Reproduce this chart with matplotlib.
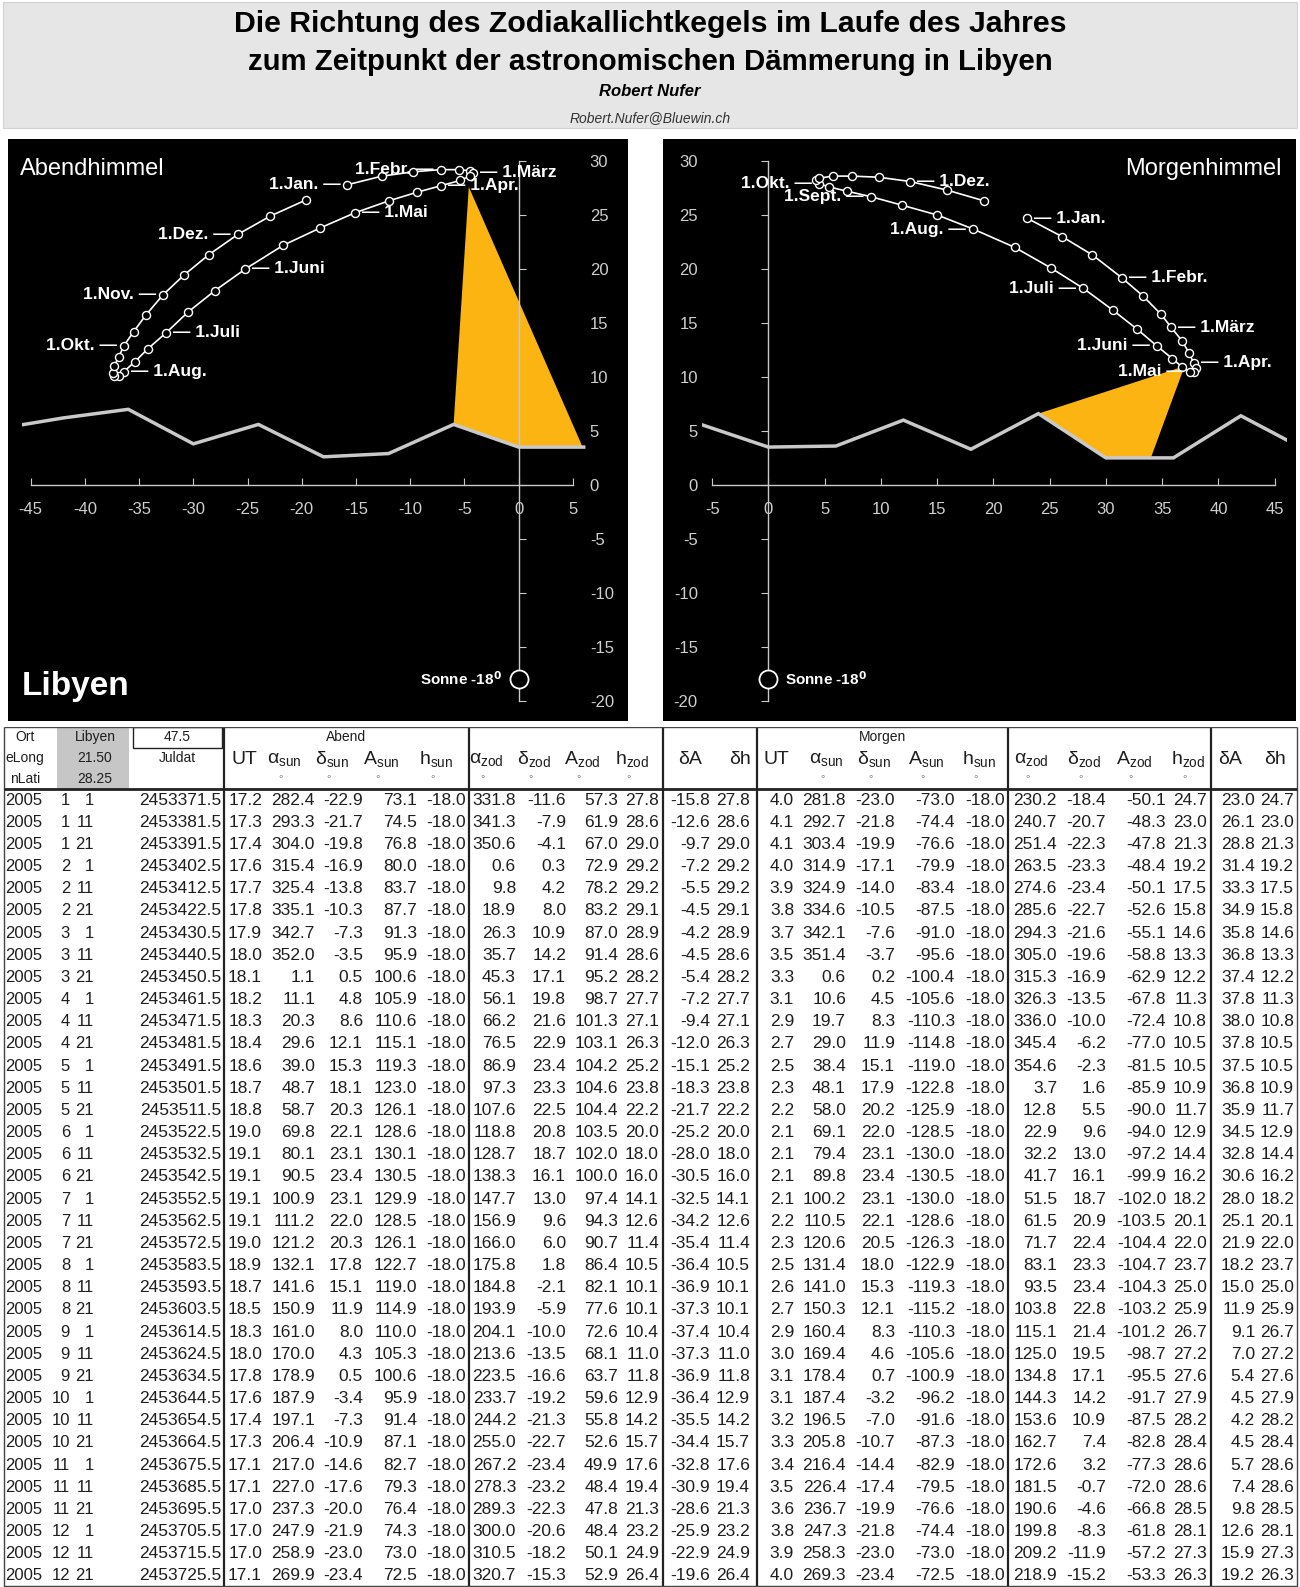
import matplotlib
matplotlib.use("Agg")
import matplotlib.pyplot as plt
from matplotlib import font_manager
from matplotlib.patches import Rectangle

W, H, DPI = 1300, 1587, 100

installed = {f.name for f in font_manager.fontManager.ttflist}
NARROW = "Liberation Sans Narrow" if "Liberation Sans Narrow" in installed else "Liberation Sans"
TITLE_SIZE = 26 if NARROW == "Liberation Sans Narrow" else 21.8

plt.rcParams["font.family"] = ["Liberation Sans", "DejaVu Sans"]
plt.rcParams["mathtext.default"] = "regular"
plt.rcParams["axes.unicode_minus"] = False

year = 2005
months = [1, 1, 1, 2, 2, 2, 3, 3, 3, 4, 4, 4, 5, 5, 5, 6, 6, 6,
          7, 7, 7, 8, 8, 8, 9, 9, 9, 10, 10, 10, 11, 11, 11, 12, 12, 12]
days = [1, 11, 21] * 12
juldat = [2453371.5, 2453381.5, 2453391.5, 2453402.5, 2453412.5, 2453422.5,
          2453430.5, 2453440.5, 2453450.5, 2453461.5, 2453471.5, 2453481.5,
          2453491.5, 2453501.5, 2453511.5, 2453522.5, 2453532.5, 2453542.5,
          2453552.5, 2453562.5, 2453572.5, 2453583.5, 2453593.5, 2453603.5,
          2453614.5, 2453624.5, 2453634.5, 2453644.5, 2453654.5, 2453664.5,
          2453675.5, 2453685.5, 2453695.5, 2453705.5, 2453715.5, 2453725.5]

# Abend
ut_e = [17.2, 17.3, 17.4, 17.6, 17.7, 17.8, 17.9, 18.0, 18.1, 18.2, 18.3, 18.4,
        18.6, 18.7, 18.8, 19.0, 19.1, 19.1, 19.1, 19.1, 19.0, 18.9, 18.7, 18.5,
        18.3, 18.0, 17.8, 17.6, 17.4, 17.3, 17.1, 17.1, 17.0, 17.0, 17.0, 17.1]
ra_sun_e = [282.4, 293.3, 304.0, 315.4, 325.4, 335.1, 342.7, 352.0, 1.1, 11.1, 20.3, 29.6,
            39.0, 48.7, 58.7, 69.8, 80.1, 90.5, 100.9, 111.2, 121.2, 132.1, 141.6, 150.9,
            161.0, 170.0, 178.9, 187.9, 197.1, 206.4, 217.0, 227.0, 237.3, 247.9, 258.9, 269.9]
dec_sun_e = [-22.9, -21.7, -19.8, -16.9, -13.8, -10.3, -7.3, -3.5, 0.5, 4.8, 8.6, 12.1,
             15.3, 18.1, 20.3, 22.1, 23.1, 23.4, 23.1, 22.0, 20.3, 17.8, 15.1, 11.9,
             8.0, 4.3, 0.5, -3.4, -7.3, -10.9, -14.6, -17.6, -20.0, -21.9, -23.0, -23.4]
az_sun_e = [73.1, 74.5, 76.8, 80.0, 83.7, 87.7, 91.3, 95.9, 100.6, 105.9, 110.6, 115.1,
            119.3, 123.0, 126.1, 128.6, 130.1, 130.5, 129.9, 128.5, 126.1, 122.7, 119.0, 114.9,
            110.0, 105.3, 100.6, 95.9, 91.4, 87.1, 82.7, 79.3, 76.4, 74.3, 73.0, 72.5]
h_sun_e = [-18.0] * 36
ra_zod_e = [331.8, 341.3, 350.6, 0.6, 9.8, 18.9, 26.3, 35.7, 45.3, 56.1, 66.2, 76.5,
            86.9, 97.3, 107.6, 118.8, 128.7, 138.3, 147.7, 156.9, 166.0, 175.8, 184.8, 193.9,
            204.1, 213.6, 223.5, 233.7, 244.2, 255.0, 267.2, 278.3, 289.3, 300.0, 310.5, 320.7]
dec_zod_e = [-11.6, -7.9, -4.1, 0.3, 4.2, 8.0, 10.9, 14.2, 17.1, 19.8, 21.6, 22.9,
             23.4, 23.3, 22.5, 20.8, 18.7, 16.1, 13.0, 9.6, 6.0, 1.8, -2.1, -5.9,
             -10.0, -13.5, -16.6, -19.2, -21.3, -22.7, -23.4, -23.2, -22.3, -20.6, -18.2, -15.3]
az_zod_e = [57.3, 61.9, 67.0, 72.9, 78.2, 83.2, 87.0, 91.4, 95.2, 98.7, 101.3, 103.1,
            104.2, 104.6, 104.4, 103.5, 102.0, 100.0, 97.4, 94.3, 90.7, 86.4, 82.1, 77.6,
            72.6, 68.1, 63.7, 59.6, 55.8, 52.6, 49.9, 48.4, 47.8, 48.4, 50.1, 52.9]
h_zod_e = [27.8, 28.6, 29.0, 29.2, 29.2, 29.1, 28.9, 28.6, 28.2, 27.7, 27.1, 26.3,
           25.2, 23.8, 22.2, 20.0, 18.0, 16.0, 14.1, 12.6, 11.4, 10.5, 10.1, 10.1,
           10.4, 11.0, 11.8, 12.9, 14.2, 15.7, 17.6, 19.4, 21.3, 23.2, 24.9, 26.4]
dA_e = [-15.8, -12.6, -9.7, -7.2, -5.5, -4.5, -4.2, -4.5, -5.4, -7.2, -9.4, -12.0,
        -15.1, -18.3, -21.7, -25.2, -28.0, -30.5, -32.5, -34.2, -35.4, -36.4, -36.9, -37.3,
        -37.4, -37.3, -36.9, -36.4, -35.5, -34.4, -32.8, -30.9, -28.6, -25.9, -22.9, -19.6]
dh_e = [27.8, 28.6, 29.0, 29.2, 29.2, 29.1, 28.9, 28.6, 28.2, 27.7, 27.1, 26.3,
        25.2, 23.8, 22.2, 20.0, 18.0, 16.0, 14.1, 12.6, 11.4, 10.5, 10.1, 10.1,
        10.4, 11.0, 11.8, 12.9, 14.2, 15.7, 17.6, 19.4, 21.3, 23.2, 24.9, 26.4]

# Morgen
ut_m = [4.0, 4.1, 4.1, 4.0, 3.9, 3.8, 3.7, 3.5, 3.3, 3.1, 2.9, 2.7,
        2.5, 2.3, 2.2, 2.1, 2.1, 2.1, 2.1, 2.2, 2.3, 2.5, 2.6, 2.7,
        2.9, 3.0, 3.1, 3.1, 3.2, 3.3, 3.4, 3.5, 3.6, 3.8, 3.9, 4.0]
ra_sun_m = [281.8, 292.7, 303.4, 314.9, 324.9, 334.6, 342.1, 351.4, 0.6, 10.6, 19.7, 29.0,
            38.4, 48.1, 58.0, 69.1, 79.4, 89.8, 100.2, 110.5, 120.6, 131.4, 141.0, 150.3,
            160.4, 169.4, 178.4, 187.4, 196.5, 205.8, 216.4, 226.4, 236.7, 247.3, 258.3, 269.3]
dec_sun_m = [-23.0, -21.8, -19.9, -17.1, -14.0, -10.5, -7.6, -3.7, 0.2, 4.5, 8.3, 11.9,
             15.1, 17.9, 20.2, 22.0, 23.1, 23.4, 23.1, 22.1, 20.5, 18.0, 15.3, 12.1,
             8.3, 4.6, 0.7, -3.2, -7.0, -10.7, -14.4, -17.4, -19.9, -21.8, -23.0, -23.4]
az_sun_m = [-73.0, -74.4, -76.6, -79.9, -83.4, -87.5, -91.0, -95.6, -100.4, -105.6, -110.3, -114.8,
            -119.0, -122.8, -125.9, -128.5, -130.0, -130.5, -130.0, -128.6, -126.3, -122.9, -119.3, -115.2,
            -110.3, -105.6, -100.9, -96.2, -91.6, -87.3, -82.9, -79.5, -76.6, -74.4, -73.0, -72.5]
h_sun_m = [-18.0] * 36
ra_zod_m = [230.2, 240.7, 251.4, 263.5, 274.6, 285.6, 294.3, 305.0, 315.3, 326.3, 336.0, 345.4,
            354.6, 3.7, 12.8, 22.9, 32.2, 41.7, 51.5, 61.5, 71.7, 83.1, 93.5, 103.8,
            115.1, 125.0, 134.8, 144.3, 153.6, 162.7, 172.6, 181.5, 190.6, 199.8, 209.2, 218.9]
dec_zod_m = [-18.4, -20.7, -22.3, -23.3, -23.4, -22.7, -21.6, -19.6, -16.9, -13.5, -10.0, -6.2,
             -2.3, 1.6, 5.5, 9.6, 13.0, 16.1, 18.7, 20.9, 22.4, 23.3, 23.4, 22.8,
             21.4, 19.5, 17.1, 14.2, 10.9, 7.4, 3.2, -0.7, -4.6, -8.3, -11.9, -15.2]
az_zod_m = [-50.1, -48.3, -47.8, -48.4, -50.1, -52.6, -55.1, -58.8, -62.9, -67.8, -72.4, -77.0,
            -81.5, -85.9, -90.0, -94.0, -97.2, -99.9, -102.0, -103.5, -104.4, -104.7, -104.3, -103.2,
            -101.2, -98.7, -95.5, -91.7, -87.5, -82.8, -77.3, -72.0, -66.8, -61.8, -57.2, -53.3]
h_zod_m = [24.7, 23.0, 21.3, 19.2, 17.5, 15.8, 14.6, 13.3, 12.2, 11.3, 10.8, 10.5,
           10.5, 10.9, 11.7, 12.9, 14.4, 16.2, 18.2, 20.1, 22.0, 23.7, 25.0, 25.9,
           26.7, 27.2, 27.6, 27.9, 28.2, 28.4, 28.6, 28.6, 28.5, 28.1, 27.3, 26.3]
dA_m = [23.0, 26.1, 28.8, 31.4, 33.3, 34.9, 35.8, 36.8, 37.4, 37.8, 38.0, 37.8,
        37.5, 36.8, 35.9, 34.5, 32.8, 30.6, 28.0, 25.1, 21.9, 18.2, 15.0, 11.9,
        9.1, 7.0, 5.4, 4.5, 4.2, 4.5, 5.7, 7.4, 9.8, 12.6, 15.9, 19.2]
dh_m = [24.7, 23.0, 21.3, 19.2, 17.5, 15.8, 14.6, 13.3, 12.2, 11.3, 10.8, 10.5,
        10.5, 10.9, 11.7, 12.9, 14.4, 16.2, 18.2, 20.1, 22.0, 23.7, 25.0, 25.9,
        26.7, 27.2, 27.6, 27.9, 28.2, 28.4, 28.6, 28.6, 28.5, 28.1, 27.3, 26.3]

# horizon profile and light cone
hor_e_x = [-48, -42, -36, -30, -24, -18, -12, -6, 0, 6]
hor_e_y = [5.2, 6.2, 7.0, 3.8, 5.6, 2.6, 2.9, 5.6, 3.5, 3.5]
hor_m_x = [-6, 0, 6, 12, 18, 24, 30, 36, 42, 48]
hor_m_y = [5.6, 3.5, 3.6, 6.0, 3.3, 6.6, 2.5, 2.5, 6.4, 3.1]
cone_e_x = [-6.0, -4.6, 5.9, 0.0]
cone_e_y = [5.6, 27.6, 3.5, 3.5]
cone_m_x = [24.0, 37.0, 34.0, 30.0]
cone_m_y = [6.6, 11.0, 2.5, 2.5]
sun_x, sun_y = 0, -18

month_names = ["1.Jan.", "1.Febr.", "1.März", "1.Apr.", "1.Mai", "1.Juni",
               "1.Juli", "1.Aug.", "1.Sept.", "1.Okt.", "1.Nov.", "1.Dez."]
# which side of the point the month label sits on (None = no label)
side_e = ["L", "L", "R", "R", "R", "R", "R", "R", None, "L", "L", "L"]
side_m = ["R", "R", "R", "R", "L", "L", "L", "L", "L", "L", None, "R"]

ORANGE = "#fbb412"
LINE = "#c9c9c9"
TICKC = "#cfcfcf"


def fig_rect(x0, y0, x1, y1):
    return [x0 / W, 1 - y1 / H, (x1 - x0) / W, (y1 - y0) / H]


fig = plt.figure(figsize=(W / DPI, H / DPI), dpi=DPI)

# ---------------- title block ----------------
fig.patches.append(Rectangle((3 / W, 1 - 128 / H), 1294 / W, 126 / H, transform=fig.transFigure,
                             fc="#e6e6e6", ec="#d2d2d2", lw=0.8))
fig.text(0.5, 1 - 24 / H, "Die Richtung des Zodiakallichtkegels im Laufe des Jahres",
         ha="center", va="center", fontsize=TITLE_SIZE, fontweight="bold", family=NARROW)
fig.text(0.5, 1 - 62 / H, "zum Zeitpunkt der astronomischen Dämmerung in Libyen",
         ha="center", va="center", fontsize=TITLE_SIZE - 0.6, fontweight="bold", family=NARROW)
fig.text(0.5, 1 - 92 / H, "Robert Nufer", ha="center", va="center", fontsize=12,
         fontweight="bold", style="italic")
fig.text(0.5, 1 - 118 / H, "Robert.Nufer@Bluewin.ch", ha="center", va="center", fontsize=10,
         style="italic", color="#333333")


# ---------------- charts ----------------
def make_panel(x0, x1):
    bg = fig.add_axes(fig_rect(x0, 139, x1, 721))
    bg.set_facecolor("black")
    bg.set_xticks([])
    bg.set_yticks([])
    for s in bg.spines.values():
        s.set_visible(False)
    return bg


def draw_chart(ax, dA, dh, hor_x, hor_y, cone_x, cone_y, sides, xlim, xticks, evening):
    ax.set_facecolor("none")
    ax.fill(cone_x, cone_y, color=ORANGE, lw=0, zorder=2)
    ax.plot(hor_x, hor_y, color=LINE, lw=2.5, zorder=3, solid_joinstyle="miter")
    ax.plot(dA, dh, "-o", color="white", lw=1.2, ms=5.8, mfc="black", mec="white",
            mew=1.0, zorder=4)
    ax.plot([sun_x], [sun_y], "o", ms=13, mfc="black", mec="white", mew=1.3, zorder=4)
    if evening:
        ax.annotate("Sonne -18$^{\\mathbf{0}}$", (sun_x, sun_y), xytext=(-12, 0),
                    textcoords="offset points", ha="right", va="center", color="white",
                    fontsize=11, fontweight="bold")
    else:
        ax.annotate("Sonne -18$^{\\mathbf{0}}$", (sun_x, sun_y), xytext=(12, 0),
                    textcoords="offset points", ha="left", va="center", color="white",
                    fontsize=11, fontweight="bold")

    for k, (name, side) in enumerate(zip(month_names, sides)):
        if side is None:
            continue
        i = 3 * k
        if side == "L":
            txt, dx, ha = name + " \u2014", -5, "right"
        else:
            txt, dx, ha = "\u2014 " + name, 5, "left"
        ax.annotate(txt, (dA[i], dh[i]), xytext=(dx, 0), textcoords="offset points",
                    ha=ha, va="center", color="white", fontsize=12.5, fontweight="bold",
                    zorder=5)

    ax.set_xlim(*xlim)
    ax.set_ylim(-21.5, 31.5)
    ax.set_xticks(xticks)
    ax.set_yticks(range(-20, 31, 5))
    for s in ax.spines.values():
        s.set_visible(False)
        s.set_color(LINE)
        s.set_linewidth(1.0)
    bottom = ax.spines["bottom"]
    bottom.set_visible(True)
    bottom.set_position(("data", 0))
    bottom.set_bounds(xticks[0], xticks[-1])
    if evening:
        vert = ax.spines["left"]
        ax.tick_params(axis="y", left=True, right=False, labelleft=False, labelright=True, pad=2)
    else:
        vert = ax.spines["right"]
        ax.tick_params(axis="y", left=False, right=True, labelleft=True, labelright=False, pad=3)
    vert.set_visible(True)
    vert.set_position(("data", 0))
    vert.set_bounds(-20, 30)
    ax.tick_params(axis="both", direction="in", length=5, color=LINE, labelcolor=TICKC,
                   labelsize=12)
    ax.tick_params(axis="x", pad=12)


bg_e = make_panel(8, 628)
bg_e.text(0.019, 0.968, "Abendhimmel", transform=bg_e.transAxes, ha="left", va="top",
          color="white", fontsize=17)
bg_e.text(0.022, 0.045, "Libyen", transform=bg_e.transAxes, ha="left", va="baseline",
          color="white", fontsize=24, fontweight="bold")
ax_e = fig.add_axes(fig_rect(22, 144.8, 587, 717))
draw_chart(ax_e, dA_e, dh_e, hor_e_x, hor_e_y, cone_e_x, cone_e_y, side_e,
           (-45.8, 6.3), list(range(-45, 6, 5)), True)

bg_m = make_panel(663, 1296)
bg_m.text(0.978, 0.968, "Morgenhimmel", transform=bg_m.transAxes, ha="right", va="top",
          color="white", fontsize=17)
ax_m = fig.add_axes(fig_rect(702, 144.8, 1287, 717))
draw_chart(ax_m, dA_m, dh_m, hor_m_x, hor_m_y, cone_m_x, cone_m_y, side_m,
           (-5.9, 46.1), list(range(-5, 46, 5)), False)

# ---------------- table ----------------
N = len(months)
HDR = 2.8
tab = fig.add_axes(fig_rect(0, 727, W, 1587))
tab.set_xlim(0, W)
tab.set_ylim(N, -HDR)
tab.axis("off")

TXT = "#1e1e1e"
col_right = [42, 70, 94, 221, 262, 315, 363, 417, 466, 516, 566, 618, 659, 710, 750,
             794, 846, 895, 955, 1005, 1057, 1106, 1166, 1207, 1255, 1294]
columns = [[year] * N, months, days, juldat,
           ut_e, ra_sun_e, dec_sun_e, az_sun_e, h_sun_e,
           ra_zod_e, dec_zod_e, az_zod_e, h_zod_e, dA_e, dh_e,
           ut_m, ra_sun_m, dec_sun_m, az_sun_m, h_sun_m,
           ra_zod_m, dec_zod_m, az_zod_m, h_zod_m, dA_m, dh_m]
for c, (xr, vals) in enumerate(zip(col_right, columns)):
    for r, v in enumerate(vals):
        s = f"{v:d}" if c < 3 else f"{v:.1f}"
        tab.text(xr, r + 0.5, s, ha="right", va="center", fontsize=12 if c < 3 else 12.5,
                 color=TXT)

# header
row_h = HDR / 3
hy = [-HDR + row_h * (k + 0.5) for k in range(3)]
tab.add_patch(Rectangle((57, -HDR), 72, HDR, fc="#c6c6c6", ec="none", zorder=0))
tab.add_patch(Rectangle((133, -HDR), 89, row_h, fc="white", ec="#222222", lw=1.0, zorder=1))
for y, s in zip(hy, ["Ort", "eLong", "nLati"]):
    tab.text(25, y, s, ha="center", va="center", fontsize=10, color=TXT)
for y, s in zip(hy, ["Libyen", "21.50", "28.25"]):
    tab.text(95, y, s, ha="center", va="center", fontsize=10, color=TXT)
tab.text(177, hy[0], "47.5", ha="center", va="center", fontsize=10, color=TXT)
tab.text(177, hy[1], "Juldat", ha="center", va="center", fontsize=10, color=TXT)
tab.text(346, hy[0], "Abend", ha="center", va="center", fontsize=10, color=TXT)
tab.text(882, hy[0], "Morgen", ha="center", va="center", fontsize=10, color=TXT)

head_labels = ["UT", r"$\alpha_{sun}$", r"$\delta_{sun}$", r"$A_{sun}$", r"$h_{sun}$",
               r"$\alpha_{zod}$", r"$\delta_{zod}$", r"$A_{zod}$", r"$h_{zod}$", "δA", "δh"]
head_x_e = [244, 284, 332, 381, 436, 486, 534, 582, 632, 690, 740]
head_x_m = [776, 826, 874, 926, 979, 1031, 1084, 1134, 1188, 1230, 1275]
degree_cols = [1, 2, 3, 4, 5, 6, 7, 8]
for hx in (head_x_e, head_x_m):
    for k, (x, s) in enumerate(zip(hx, head_labels)):
        tab.text(x, hy[1] + 0.05, s, ha="center", va="center", fontsize=14, color=TXT)
        if k in degree_cols:
            tab.text(x - 3, hy[2], "°", ha="center", va="center", fontsize=8, color="#8a8a8a")

# grid lines
tab.vlines([224, 469, 663, 757, 1008, 1211], -HDR, N, color="#222222", lw=1.6)
tab.vlines([4, 1297], -HDR, N, color="#444444", lw=1.0)
tab.hlines([-HDR, N - 0.03], 4, 1297, color="#444444", lw=1.0)
tab.hlines([0], 4, 1297, color="#222222", lw=2.0)

fig.savefig("out.png", dpi=DPI, facecolor="white")
